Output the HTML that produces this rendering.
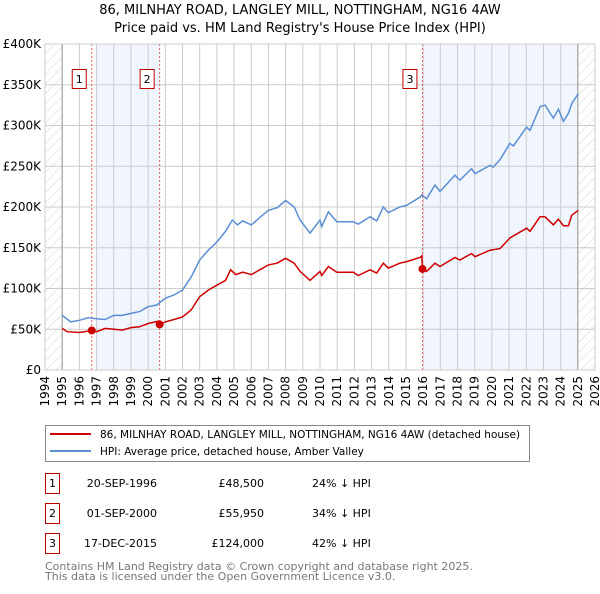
<!DOCTYPE html>
<html><head><meta charset="utf-8"><style>
body{margin:0;background:#fff;width:600px;height:590px;overflow:hidden;font-family:"DejaVu Sans","Liberation Sans",sans-serif;}
svg text{font-family:"DejaVu Sans","Liberation Sans",sans-serif;}
</style></head><body>
<svg id="chart" width="600" height="590" xmlns="http://www.w3.org/2000/svg">
<defs>
<pattern id="hatch" width="7" height="7" patternUnits="userSpaceOnUse" patternTransform="rotate(45)">
<line x1="0" y1="0" x2="0" y2="7" stroke="#d4d4d4" stroke-width="1"/></pattern>
</defs>
<text x="300" y="14" font-size="13" text-anchor="middle">86, MILNHAY ROAD, LANGLEY MILL, NOTTINGHAM, NG16 4AW</text>
<text x="300" y="32" font-size="13" text-anchor="middle">Price paid vs. HM Land Registry's House Price Index (HPI)</text>
<g id="plot"></g>
<g>
<rect x="45.5" y="425.5" width="484" height="36" fill="#fff" stroke="#888"/>
<line x1="50" y1="434" x2="91" y2="434" stroke="#cc0000" stroke-width="2"/>
<text x="100" y="438" font-size="10.5">86, MILNHAY ROAD, LANGLEY MILL, NOTTINGHAM, NG16 4AW (detached house)</text>
<line x1="50" y1="451" x2="91" y2="451" stroke="#5b8fd4" stroke-width="2"/>
<text x="100" y="455" font-size="10.5">HPI: Average price, detached house, Amber Valley</text>
</g>
<g id="table" font-size="11"></g>
<text x="45" y="570" font-size="11" fill="#777">Contains HM Land Registry data © Crown copyright and database right 2025.</text>
<text x="45" y="580" font-size="11" fill="#777">This data is licensed under the Open Government Licence v3.0.</text>
</svg>
<script>
const hpiDates=[1995.0,1995.5,1996.0,1996.5,1997.0,1997.5,1998.0,1998.5,1999.0,1999.5,2000.0,2000.5,2001.0,2001.5,2002.0,2002.5,2003.0,2003.5,2004.0,2004.5,2004.9,2005.2,2005.5,2006.0,2006.5,2007.0,2007.5,2008.0,2008.5,2008.84,2009.42,2010.0,2010.1,2010.49,2010.97,2011.94,2012.23,2012.91,2013.3,2013.68,2013.98,2014.65,2015.04,2015.82,2015.92,2016.2,2016.69,2016.98,2017.85,2018.14,2018.82,2019.02,2019.89,2020.08,2020.47,2021.05,2021.25,2022.02,2022.22,2022.8,2023.09,2023.58,2023.87,2024.16,2024.45,2024.65,2025.03];
const hpiValues=[67,59,61,64,63,62,67,67,69.5,71.6,77.7,79.8,88,92,98,114,135,147,157,170,184,178,183,178,187,196,199,208,200,184,168,184,176,194,182,182,179,188,183,200,193,200,202,212,215,210,227,219,239,233,247,241,251,249,258,278,275,298,294,323,325,309,320,305,315,327,339];
const paidDates=[1995.0,1995.3,1996.0,1996.72,1997.0,1997.5,1998.0,1998.5,1999.0,1999.5,2000.0,2000.6,2000.67,2001.0,2001.5,2002.0,2002.5,2003.0,2003.5,2004.0,2004.5,2004.8,2005.1,2005.5,2006.0,2006.5,2007.0,2007.5,2008.0,2008.5,2008.84,2009.42,2010.0,2010.1,2010.49,2010.97,2011.94,2012.23,2012.91,2013.3,2013.68,2013.98,2014.65,2015.04,2015.82,2015.92,2015.96,2016.2,2016.69,2016.98,2017.85,2018.14,2018.82,2019.02,2019.89,2020.47,2021.05,2022.02,2022.22,2022.8,2023.09,2023.58,2023.87,2024.16,2024.45,2024.65,2025.03];
const paidValues=[51,47,46,48.5,47,51,50,49,52,53,57,60,55.95,59,62,65,73.6,90,98,104,110,123,117,120,117,123,129,131,137,131,121,110,121,116,127,120,120,116,123,119,131,125,131,133,138,140,124,121,131,127,138,135,143,139,147,149,162,174,170,188,188,178,185,177,177,190,196];
const saleLabels=["1","2","3"];
const saleDates=[1996.72,2000.67,2015.96];
const salePrices=[48.5,55.95,124];
const saleDateText=["20-SEP-1996","01-SEP-2000","17-DEC-2015"];
const salePriceText=["£48,500","£55,950","£124,000"];
const salePctText=["24% ↓ HPI","34% ↓ HPI","42% ↓ HPI"];
const yTicks=[0,50,100,150,200,250,300,350,400];
const yTickLabels=["£0","£50K","£100K","£150K","£200K","£250K","£300K","£350K","£400K"];
const xYears=[1994,1995,1996,1997,1998,1999,2000,2001,2002,2003,2004,2005,2006,2007,2008,2009,2010,2011,2012,2013,2014,2015,2016,2017,2018,2019,2020,2021,2022,2023,2024,2025,2026];

const L=45,R=595,T=44,B=370;
const xs=y=>L+(y-1994)*(R-L)/32;
const ys=v=>B-v*(B-T)/400;
const NS="http://www.w3.org/2000/svg";
const plot=document.getElementById('plot');
function mk(tag,attrs,parent){const e=document.createElementNS(NS,tag);for(const k in attrs)e.setAttribute(k,attrs[k]);(parent||plot).appendChild(e);return e;}
let e;
e=mk('rect',{x:L,y:T,width:R-L,height:B-T,fill:'#fff'});


e=mk('rect',{x:xs(1997),y:T,width:xs(saleDates[1])-xs(1997),height:B-T,fill:'#eef3fc',opacity:0.8});


e=mk('rect',{x:xs(saleDates[2]),y:T,width:xs(2025)-xs(saleDates[2]),height:B-T,fill:'#eef3fc',opacity:0.8});


e=mk('rect',{x:xs(1994),y:T,width:xs(1995)-xs(1994),height:B-T,fill:'url(#hatch)'});


e=mk('rect',{x:xs(2025),y:T,width:xs(2026)-xs(2025),height:B-T,fill:'url(#hatch)'});


yTicks.forEach((v,i)=>{
 e=mk('line',{x1:L,x2:R,y1:ys(v),y2:ys(v),stroke:'#ccc','stroke-width':1});
 
 
 e=mk('text',{x:L-4,y:ys(v)+4,'font-size':12,'text-anchor':'end'});e.textContent=yTickLabels[i];
 
 
});
xYears.forEach(y=>{
 e=mk('line',{x1:xs(y),x2:xs(y),y1:T,y2:B,stroke:'#ccc','stroke-width':1});
 
 
 e=mk('text',{x:0,y:0,'font-size':12,'text-anchor':'end',transform:`translate(${xs(y)+4},${B+6}) rotate(-90)`});e.textContent=y;
 
 
});
e=mk('line',{x1:xs(1995),x2:xs(1995),y1:T,y2:B,stroke:'#999'});


e=mk('line',{x1:xs(2025),x2:xs(2025),y1:T,y2:B,stroke:'#999'});


saleDates.forEach((d,i)=>{
 e=mk('line',{x1:xs(d),x2:xs(d),y1:T,y2:B,stroke:'#e06060','stroke-dasharray':'2,2','stroke-width':1});
 
 
 e=mk('rect',{x:xs(d)-19.5,y:69.5,width:14,height:19,fill:'#fff',stroke:'#b00'});
 
 
 e=mk('text',{x:xs(d)-12.5,y:83,'font-size':11,'text-anchor':'middle'});e.textContent=saleLabels[i];
 
 
});
function path(dates,vals){return dates.map((d,i)=>(i?'L':'M')+xs(d).toFixed(1)+','+ys(vals[i]).toFixed(1)).join('');}
e=mk('path',{d:path(hpiDates,hpiValues),fill:'none',stroke:'#5b8fd4','stroke-width':1.5});


e=mk('path',{d:path(paidDates,paidValues),fill:'none',stroke:'#cc0000','stroke-width':1.5});


saleDates.forEach((d,i)=>{
 e=mk('circle',{cx:xs(d),cy:ys(salePrices[i]),r:4,fill:'#cc0000'});
 
 
});
e=mk('rect',{x:L,y:T,width:R-L,height:B-T,fill:'none',stroke:'#ccc'});


const tb=document.getElementById('table');
saleLabels.forEach((l,i)=>{
 const cy=483+i*30;
 e=mk('rect',{x:45.5,y:cy-9.5,width:14,height:20,fill:'#fff',stroke:'#b00'},tb);
 
 
 e=mk('text',{x:52.5,y:cy+4,'text-anchor':'middle'},tb);e.textContent=l;
 
 
 e=mk('text',{x:157,y:cy+4,'text-anchor':'end'},tb);e.textContent=saleDateText[i];
 
 
 e=mk('text',{x:264,y:cy+4,'text-anchor':'end'},tb);e.textContent=salePriceText[i];
 
 
 e=mk('text',{x:312,y:cy+4},tb);e.textContent=salePctText[i];
 
 
});
</script>
</body></html>
